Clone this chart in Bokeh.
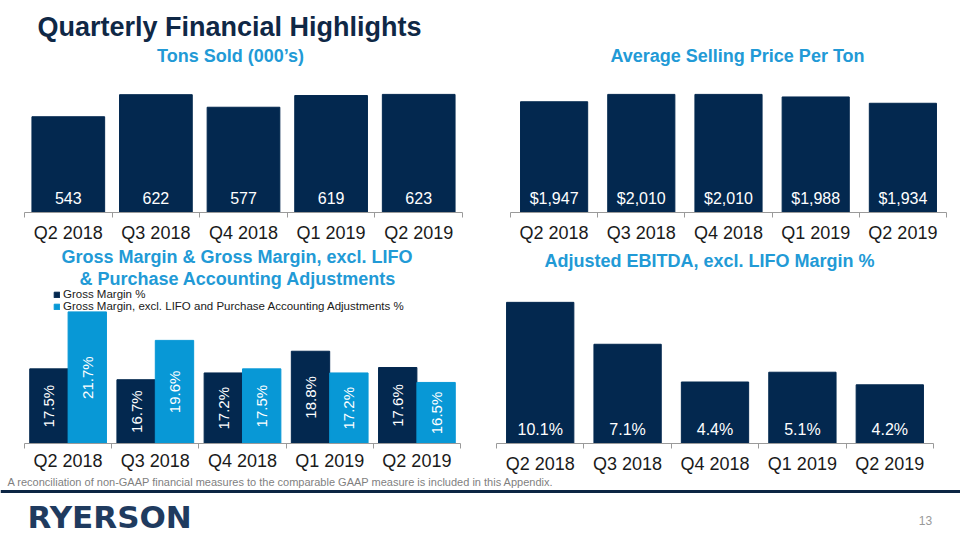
import math
from bokeh.plotting import figure
from bokeh.models import (Range1d, LinearAxis, FixedTicker,
                          ColumnDataSource, Label, Span, Legend, LegendItem)
from bokeh.layouts import column, row
from bokeh.transform import dodge
from bokeh.embed import file_html
from bokeh.resources import INLINE
from bokeh.core.properties import value

# ---------------- data ----------------
quarters = ["Q2 2018", "Q3 2018", "Q4 2018", "Q1 2019", "Q2 2019"]
tons_sold = [543, 622, 577, 619, 623]
avg_price = [1947, 2010, 2010, 1988, 1934]
gross_margin = [17.5, 16.7, 17.2, 18.8, 17.6]
gross_margin_excl = [21.7, 19.6, 17.5, 17.2, 16.5]
ebitda_margin = [10.1, 7.1, 4.4, 5.1, 4.2]

tons_labels = [f"{v:,}" for v in tons_sold]
price_labels = [f"${v:,}" for v in avg_price]
gm_labels = [f"{v:.1f}%" for v in gross_margin]
gmx_labels = [f"{v:.1f}%" for v in gross_margin_excl]
ebitda_labels = [f"{v:.1f}%" for v in ebitda_margin]

# category slots: category i occupies [i, i+1] on the x scale
n = len(quarters)
centers = [i + 0.5 for i in range(n)]
edges = list(range(n + 1))

# ---------------- styles ----------------
FONT = "Liberation Sans"
NAVY = "#03284f"
LIGHT = "#0898d6"
BLUE_TITLE = "#229ad6"
TITLE_NAVY = "#0f2846"
AXIS = "#9a9a9a"
LABEL = "#1a1a1a"


def clean(p):
    p.outline_line_color = None
    p.grid.visible = False


def band(h):
    """A plain strip of the page, with a pixel coordinate system (y downwards)."""
    p = figure(width=960, height=h, x_range=Range1d(0, 960), y_range=Range1d(h, 0),
               x_axis_location=None, y_axis_location=None, toolbar_location=None,
               output_backend="svg", title=None, min_border=0)
    clean(p)
    return p


def chart_title(p, text, x, y):
    p.add_layout(Label(x=x, y=y, text=text, text_align="center", text_baseline="top",
                       text_font=FONT, text_font_size="18px", text_font_style="bold",
                       text_color=BLUE_TITLE))


def base_fig(w, h, left, right, bottom, y0, y1, standoff):
    p = figure(width=w, height=h, x_range=Range1d(0, n), y_range=Range1d(y0, y1),
               x_axis_location=None, y_axis_location=None, toolbar_location=None,
               output_backend="svg", title=None,
               min_border_left=left, min_border_right=right,
               min_border_top=0, min_border_bottom=bottom)
    clean(p)
    axis = LinearAxis(ticker=FixedTicker(ticks=centers, minor_ticks=edges),
                      major_label_overrides={c: q for c, q in zip(centers, quarters)},
                      axis_line_color=AXIS, major_tick_line_color=None,
                      major_tick_out=5, major_tick_in=0,
                      minor_tick_line_color=AXIS, minor_tick_out=5, minor_tick_in=0,
                      major_label_text_font=FONT, major_label_text_font_size="18px",
                      major_label_text_color=LABEL, major_label_standoff=standoff)
    p.add_layout(axis, "below")
    return p


def bottom_labels(p, src, col, y0, yoff):
    src.data["base"] = [y0] * n
    p.text(x="x", y="base", text=col, source=src, y_offset=yoff,
           text_align="center", text_baseline="middle", text_color="white",
           text_font=value(FONT), text_font_size="16px")


# ---------------- header (page title + top chart titles) ----------------
header = band(80)
header.add_layout(Label(x=37, y=11, text="Quarterly Financial Highlights", text_baseline="top",
                        text_font=FONT, text_font_size="27px", text_font_style="bold",
                        text_color=TITLE_NAVY))
chart_title(header, "Tons Sold (000\u2019s)", 230, 45.5)
chart_title(header, "Average Selling Price Per Ton", 737, 45.5)

# ---------------- chart 1: tons sold ----------------
src1 = ColumnDataSource(dict(x=centers, v=tons_sold, lab=tons_labels))
y0_1 = 200
p1 = base_fig(480, 165, 24, 18, 32, y0_1, 672.8, 5)
p1.vbar(x="x", top="v", bottom=y0_1, width=0.83, source=src1, color=NAVY)
bottom_labels(p1, src1, "lab", y0_1, -15)

# ---------------- chart 2: average selling price ----------------
src2 = ColumnDataSource(dict(x=centers, v=avg_price, lab=price_labels))
y0_2 = 1000
p2 = base_fig(480, 165, 30, 14, 32, y0_2, 2128.8, 5)
p2.vbar(x="x", top="v", bottom=y0_2, width=0.77, source=src2, color=NAVY)
bottom_labels(p2, src2, "lab", y0_2, -14)

# ---------------- middle band (bottom chart titles) ----------------
mid = band(44)
chart_title(mid, "Gross Margin & Gross Margin, excl. LIFO", 236.5, 1)
chart_title(mid, "& Purchase Accounting Adjustments", 237.5, 23.5)
chart_title(mid, "Adjusted EBITDA, excl. LIFO Margin %", 709, 5.5)

# ---------------- chart 3: gross margin ----------------
y0_3 = 12
src3 = ColumnDataSource(dict(x=centers, gm=gross_margin, gmx=gross_margin_excl,
                             gml=gm_labels, gmxl=gmx_labels,
                             gmm=[(y0_3 + v) / 2 for v in gross_margin],
                             gmxm=[(y0_3 + v) / 2 for v in gross_margin_excl]))
p3 = base_fig(480, 187, 24, 20, 29, y0_3, 23.35, 2)
r_gm = p3.vbar(x=dodge("x", -0.22), top="gm", bottom=y0_3, width=0.44,
               source=src3, color=NAVY)
r_gmx = p3.vbar(x=dodge("x", 0.22), top="gmx", bottom=y0_3, width=0.44,
                source=src3, color=LIGHT)
p3.text(x=dodge("x", -0.22), y="gmm", text="gml", source=src3,
        angle=math.pi / 2, text_align="center", text_baseline="middle", text_color="white",
        text_font=value(FONT), text_font_size="15px")
p3.text(x=dodge("x", 0.22), y="gmxm", text="gmxl", source=src3,
        angle=math.pi / 2, text_align="center", text_baseline="middle", text_color="white",
        text_font=value(FONT), text_font_size="15px")
legend = Legend(items=[LegendItem(label="Gross Margin %", renderers=[r_gm]),
                       LegendItem(label="Gross Margin, excl. LIFO and Purchase Accounting Adjustments %",
                                  renderers=[r_gmx])],
                location=(29, 131), glyph_width=7, glyph_height=7, label_standoff=3,
                label_height=12, label_text_font=FONT, label_text_font_size="11.5px",
                label_text_color=LABEL, spacing=0, padding=0, margin=0,
                border_line_color=None, background_fill_alpha=0)
p3.add_layout(legend)

# ---------------- chart 4: adjusted EBITDA ----------------
src4 = ColumnDataSource(dict(x=centers, v=ebitda_margin, lab=ebitda_labels))
y0_4 = 0
p4 = base_fig(480, 187, 16, 27, 32, y0_4, 11.02, 5)
p4.vbar(x="x", top="v", bottom=y0_4, width=0.77, source=src4, color=NAVY)
bottom_labels(p4, src4, "lab", y0_4, -14)

# ---------------- footer ----------------
footer = band(64)
footer.add_layout(Label(x=7, y=5, text="A reconciliation of non-GAAP financial measures to the "
                        "comparable GAAP measure is included in this Appendix.",
                        text_baseline="middle", text_font=FONT, text_font_size="11px",
                        text_color="#7f7f7f"))
footer.add_layout(Span(location=15, dimension="width", line_color="#0c2644", line_width=3))
footer.add_layout(Label(x=27, y=22, text="RYERSON", text_baseline="top",
                        text_font="DejaVu Sans", text_font_size="31px", text_font_style="bold",
                        text_color="#1f3b5f"))
footer.add_layout(Label(x=925, y=39, text="13", text_align="center", text_baseline="top",
                        text_font=FONT, text_font_size="12px", text_color="#999999"))

layout = column(header, row(p1, p2), mid, row(p3, p4), footer)
open("out.html", "w").write(file_html(layout, INLINE))
